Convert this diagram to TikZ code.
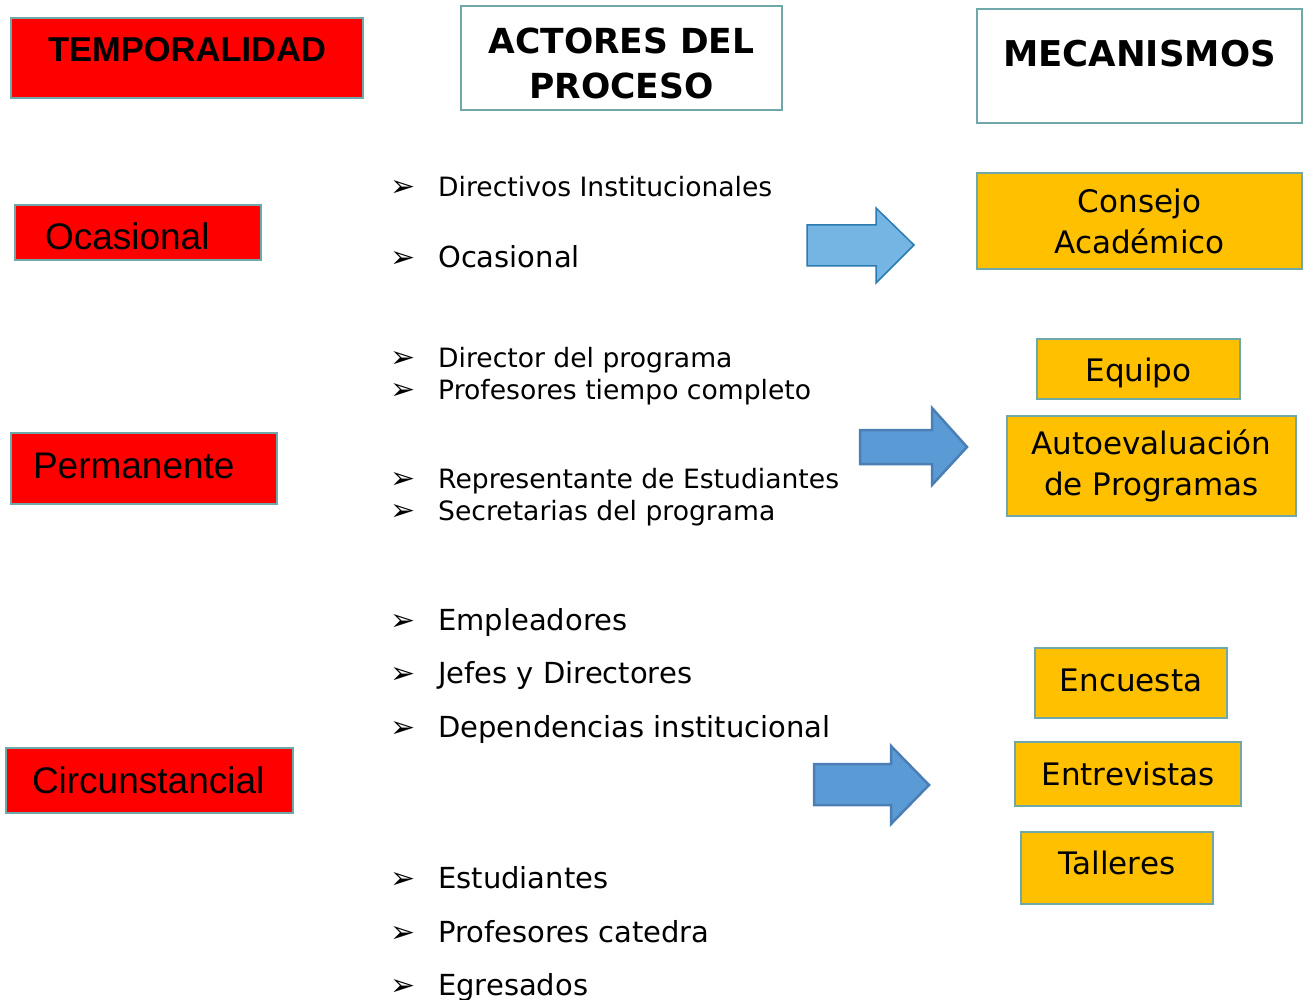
\documentclass[tikz,border=0pt]{standalone}
\usepackage{fontspec}
\setmainfont{DejaVu Sans}
\newfontfamily\arialfont{Liberation Sans}
\usetikzlibrary{calc}
\definecolor{tealborder}{HTML}{6FA8A8}
\definecolor{boxred}{HTML}{FF0000}
\definecolor{boxgold}{HTML}{FFC000}
\definecolor{lightarrow}{HTML}{75B5E3}
\definecolor{lightarrowline}{HTML}{2B7BB0}
\definecolor{darkarrow}{HTML}{5B9BD5}
\definecolor{darkarrowline}{HTML}{4A7EB5}
\tikzset{
every picture/.style={x=1pt, y=-1pt},
%%%%%%%%%%  Node styles
header/.style={draw=tealborder, line width=2pt, fill=white, inner sep=0pt,
               font=\bfseries\fontsize{34.5}{45}\selectfont, align=center},
tempbox/.style={draw=tealborder, line width=2pt, fill=boxred, inner ysep=0pt,
                align=left},
mechbox/.style={draw=tealborder, line width=2pt, fill=boxgold, inner sep=0pt,
                font=\fontsize{31}{41}\selectfont, align=center},
item/.style={anchor=base west, inner sep=0pt, font=\fontsize{26.6}{26.6}\selectfont},
bigitem/.style={item, font=\fontsize{29}{29}\selectfont},
%%%%%%% Block arrows
lightblock/.style={fill=lightarrow, draw=lightarrowline, line width=1.5pt},
darkblock/.style={fill=darkarrow, draw=darkarrowline, line width=2.5pt,
                  line join=miter}
}
\newcommand{\bul}{\makebox[48pt][l]{\fontsize{30}{30}\selectfont ➢}}

\begin{document}
\begin{tikzpicture}
\useasboundingbox (0,0) rectangle (1306,1000);
%%%% column headers
\node[tempbox, minimum width=352pt, text height=44pt, text depth=36pt,
      font=\arialfont\bfseries\fontsize{34.5}{34.5}\selectfont, align=center]
      (temporalidad) at (187,58) {TEMPORALIDAD};
\node[header, minimum width=321pt, minimum height=104pt] (actores) at (621.5,58)
      {\rule{0pt}{36pt}ACTORES DEL\\PROCESO};
\node[header, minimum width=325pt, text height=57.5pt, text depth=56.5pt,
      font=\bfseries\fontsize{35.5}{45}\selectfont]
      (mecanismos) at (1139.5,66) {MECANISMOS};
%%%% temporalidad
\node[tempbox, inner xsep=30pt, text width=186pt, text height=45pt, text depth=10pt,
      font=\arialfont\fontsize{37}{37}\selectfont] (ocasional) at (138,232.5) {Ocasional};
\node[tempbox, inner xsep=22pt, text width=222pt, text height=45pt, text depth=26pt,
      font=\arialfont\fontsize{37}{37}\selectfont] (permanente) at (144,468.5) {Permanente};
\node[tempbox, inner xsep=26pt, text width=235pt, text height=45pt, text depth=20pt,
      font=\arialfont\fontsize{37}{37}\selectfont] (circunstancial) at (149.5,780.5) {Circunstancial};
%%%% actores del proceso
\node[item] (directivos) at (390,197) {\bul Directivos Institucionales};
\node[bigitem] (ocasionales) at (390,268) {\bul Ocasional};
\node[item] (director) at (390,367) {\bul Director del programa};
\node[item] (profesores) at (390,399) {\bul Profesores tiempo completo};
\node[item] (representante) at (390,488) {\bul Representante de Estudiantes};
\node[item] (secretarias) at (390,520) {\bul Secretarias del programa};
\node[bigitem] (empleadores) at (390,630) {\bul Empleadores};
\node[bigitem] (jefes) at (390,683) {\bul Jefes y Directores};
\node[bigitem] (dependencias) at (390,737) {\bul Dependencias institucional};
\node[bigitem] (estudiantes) at (390,888) {\bul Estudiantes};
\node[bigitem] (catedra) at (390,942) {\bul Profesores catedra};
\node[bigitem] (egresados) at (390,995) {\bul Egresados};
%%%% block arrows
\draw[lightblock] (807,225) -- (876,225) -- (876,208) -- (914,245)
      -- (876,283) -- (876,266) -- (807,266) -- cycle;
\draw[darkblock] (860,430) -- (932,430) -- (932,408) -- (967,447)
      -- (932,485) -- (932,464) -- (860,464) -- cycle;
\draw[darkblock] (814,764) -- (891,764) -- (891,746) -- (929,785)
      -- (891,824) -- (891,805) -- (814,805) -- cycle;
%%%% mecanismos
\node[mechbox, minimum width=325pt, minimum height=96pt] (consejo) at (1139.5,221)
      {Consejo\\Académico};
\node[mechbox, minimum width=203pt, minimum height=60pt, text height=31pt]
      (equipo) at (1138.5,369) {Equipo};
\node[mechbox, minimum width=289pt, minimum height=100pt] (autoevaluacion) at (1151.5,466)
      {Autoevaluación\\de Programas};
\node[mechbox, minimum width=192pt, minimum height=70pt, text depth=6pt]
      (encuesta) at (1131,683) {Encuesta};
\node[mechbox, minimum width=226pt, minimum height=64pt] (entrevistas) at (1128,774)
      {Entrevistas};
\node[mechbox, minimum width=192pt, minimum height=72pt, text depth=10pt]
      (talleres) at (1117,868) {Talleres};
\end{tikzpicture}
\end{document}
